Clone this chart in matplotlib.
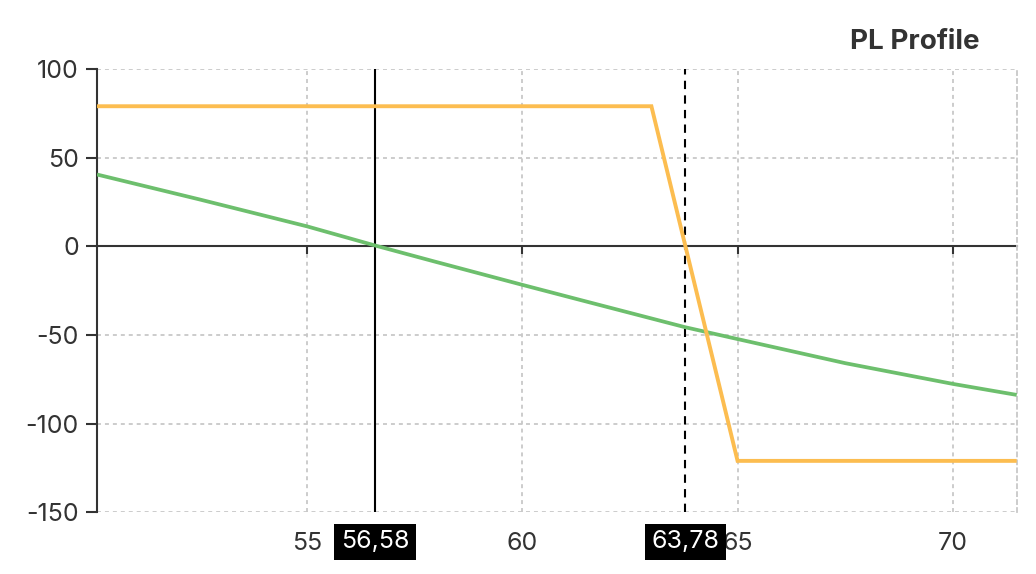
import matplotlib
matplotlib.use("Agg")
import matplotlib.pyplot as plt
import matplotlib.transforms as mtransforms

plt.rcParams['font.family'] = ['Inter', 'DejaVu Sans']
plt.rcParams['axes.unicode_minus'] = False

# ---- data ----
price_green = [50.13, 52.5, 55.0, 56.58, 58.0, 60.0, 61.34, 63.78, 65.0, 67.5, 70.0, 71.48]
pl_green = [40.5, 26.5, 11.3, 0.5, -8.8, -21.7, -30.2, -45.6, -52.3, -65.9, -77.6, -83.8]

price_orange = [50.13, 63.0, 65.0, 71.48]
pl_orange = [79.0, 79.0, -121.0, -121.0]

spot = 56.58
breakeven = 63.78
spot_label = "56,58"
breakeven_label = "63,78"

x_ticks = [55, 60, 65, 70]
y_ticks = [100, 50, 0, -50, -100, -150]
x_range = (50.13, 71.48)
y_range = (-150, 100)
title = "PL Profile"

# ---- figure ----
W, H = 1036, 574
fig = plt.figure(figsize=(W / 100, H / 100), dpi=100)
ax = fig.add_axes([97 / W, 1 - 512.3 / H, (1016.7 - 97) / W, (512.3 - 69) / H])

dark = '#333333'
grid_c = '#c8c8c8'
ax.set_xlim(*x_range)
ax.set_ylim(*y_range)
ax.set_xticks(x_ticks)
ax.set_yticks(y_ticks)
ax.grid(True, color=grid_c, linewidth=1.3, linestyle=(0, (2.2, 2.2)), zorder=0)
ax.set_axisbelow(True)

ax.spines['top'].set_visible(False)
ax.spines['right'].set_color(grid_c)
ax.spines['right'].set_linewidth(1.3)
ax.spines['right'].set_linestyle((0, (2.2, 2.2)))
ax.spines['left'].set_color(dark)
ax.spines['left'].set_linewidth(1.5)
ax.spines['bottom'].set_position(('data', 0))
ax.spines['bottom'].set_color(dark)
ax.spines['bottom'].set_linewidth(1.5)
ax.spines['bottom'].set_zorder(1.5)

ax.tick_params(axis='y', length=8, width=1.5, color=dark, labelcolor=dark,
               labelsize=18, pad=5)
ax.tick_params(axis='x', length=5.8, width=1.5, color=dark, labelbottom=False)

sec = ax.secondary_xaxis(0)
sec.set_xticks(x_ticks)
sec.tick_params(length=0, labelsize=18, labelcolor=dark, pad=14.5)
sec.spines['bottom'].set_visible(False)

ax.plot(price_green, pl_green, color='#6dbf6d', linewidth=2.7, zorder=3,
        solid_joinstyle='round', solid_capstyle='butt')
ax.plot(price_orange, pl_orange, color='#fcbd50', linewidth=2.8, zorder=3,
        solid_joinstyle='miter', solid_capstyle='butt')

ax.axvline(spot, color='black', linewidth=1.5, zorder=2)
ax.axvline(breakeven, color='black', linewidth=1.5, linestyle=(0, (4, 3)), zorder=2)

trans = mtransforms.blended_transform_factory(ax.transData, fig.transFigure)
for xv, lab in [(spot, spot_label), (breakeven, breakeven_label)]:
    ax.text(xv, 1 - 541.5 / H, lab, transform=trans, ha='center', va='center',
            fontsize=18, color='white', clip_on=False, zorder=20,
            bbox=dict(boxstyle='square,pad=0.26', facecolor='black', edgecolor='none'))

fig.text(980 / W, 1 - 41.7 / H, title, ha='right', va='center', fontsize=20,
         fontweight='bold', color=dark)

fig.savefig('out.png', dpi=100)
